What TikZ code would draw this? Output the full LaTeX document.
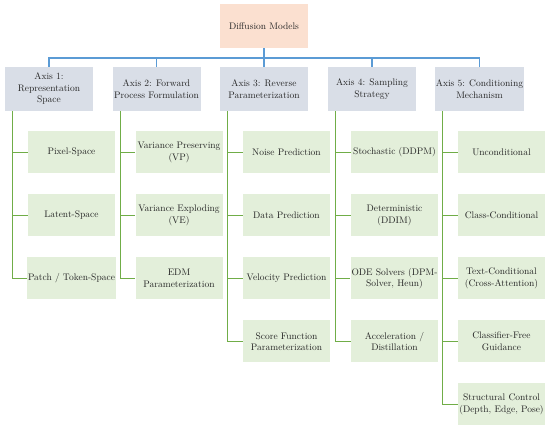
\documentclass[tikz,border=0pt]{standalone}
\definecolor{rootfill}{HTML}{FBE0D0}
\definecolor{axisfill}{HTML}{D9DEE7}
\definecolor{leaffill}{HTML}{E3EFDA}
\definecolor{busblue}{HTML}{5B9BD5}
\definecolor{leafgreen}{HTML}{70AD47}
\definecolor{txt}{HTML}{262626}
\begin{document}
\begin{tikzpicture}[x=1pt,y=-1pt,
  base/.style={align=center,inner sep=1pt,text=txt,font=\fontsize{9.5}{11.5}\selectfont},
  rootbox/.style={base,fill=rootfill,minimum width=88pt,minimum height=44pt},
  axisbox/.style={base,fill=axisfill,minimum width=88pt,minimum height=44pt},
  leafbox/.style={base,fill=leaffill,minimum width=87pt,minimum height=42pt},
  bus/.style={draw=busblue,line width=1.1pt},
  twig/.style={draw=leafgreen,line width=1.1pt}]
\useasboundingbox (0,0) rectangle (550,430);
\node[rootbox] (root) at (264,26) {Diffusion Models};
\coordinate (busc) at (264,58);
\node[axisbox] (a1) at (49,89) {Axis 1:\\Representation\\Space};
\node[axisbox] (a2) at (156.5,89) {Axis 2: Forward\\Process Formulation};
\node[axisbox] (a3) at (264,89) {Axis 3: Reverse\\Parameterization};
\node[axisbox] (a4) at (372,89) {Axis 4: Sampling\\Strategy};
\node[axisbox] (a5) at (479.5,89) {Axis 5: Conditioning\\Mechanism};
\draw[bus] (root.south) -- (busc);
\foreach \i in {1,...,5} { \draw[bus] (busc) -| (a\i.north); }
% leaves
\node[leafbox] (c11) at (71.5,152.5) {Pixel-Space};
\node[leafbox] (c12) at (71.5,215.5) {Latent-Space};
\node[leafbox] (c13) at (71.5,278.5) {Patch / Token-Space};
\node[leafbox] (c21) at (179,152.5) {Variance Preserving\\(VP)};
\node[leafbox] (c22) at (179,215.5) {Variance Exploding\\(VE)};
\node[leafbox] (c23) at (179,278.5) {EDM\\Parameterization};
\node[leafbox] (c31) at (286.5,152.5) {Noise Prediction};
\node[leafbox] (c32) at (286.5,215.5) {Data Prediction};
\node[leafbox] (c33) at (286.5,278.5) {Velocity Prediction};
\node[leafbox] (c34) at (286.5,341.5) {Score Function\\Parameterization};
\node[leafbox] (c41) at (394.5,152.5) {Stochastic (DDPM)};
\node[leafbox] (c42) at (394.5,215.5) {Deterministic\\(DDIM)};
\node[leafbox] (c43) at (394.5,278.5) {ODE Solvers (DPM-\\Solver, Heun)};
\node[leafbox] (c44) at (394.5,341.5) {Acceleration /\\Distillation};
\node[leafbox] (c51) at (501.5,152.5) {Unconditional};
\node[leafbox] (c52) at (501.5,215.5) {Class-Conditional};
\node[leafbox] (c53) at (501.5,278.5) {Text-Conditional\\(Cross-Attention)};
\node[leafbox] (c54) at (501.5,341.5) {Classifier-Free\\Guidance};
\node[leafbox] (c55) at (501.5,404.5) {Structural Control\\(Depth, Edge, Pose)};
\foreach \j in {1,2,3} { \draw[twig] ([xshift=8pt]a1.south west) |- (c1\j.west); }
\foreach \j in {1,2,3} { \draw[twig] ([xshift=8pt]a2.south west) |- (c2\j.west); }
\foreach \j in {1,...,4} { \draw[twig] ([xshift=8pt]a3.south west) |- (c3\j.west); }
\foreach \j in {1,...,4} { \draw[twig] ([xshift=8pt]a4.south west) |- (c4\j.west); }
\foreach \j in {1,...,5} { \draw[twig] ([xshift=8pt]a5.south west) |- (c5\j.west); }
\end{tikzpicture}
\end{document}
